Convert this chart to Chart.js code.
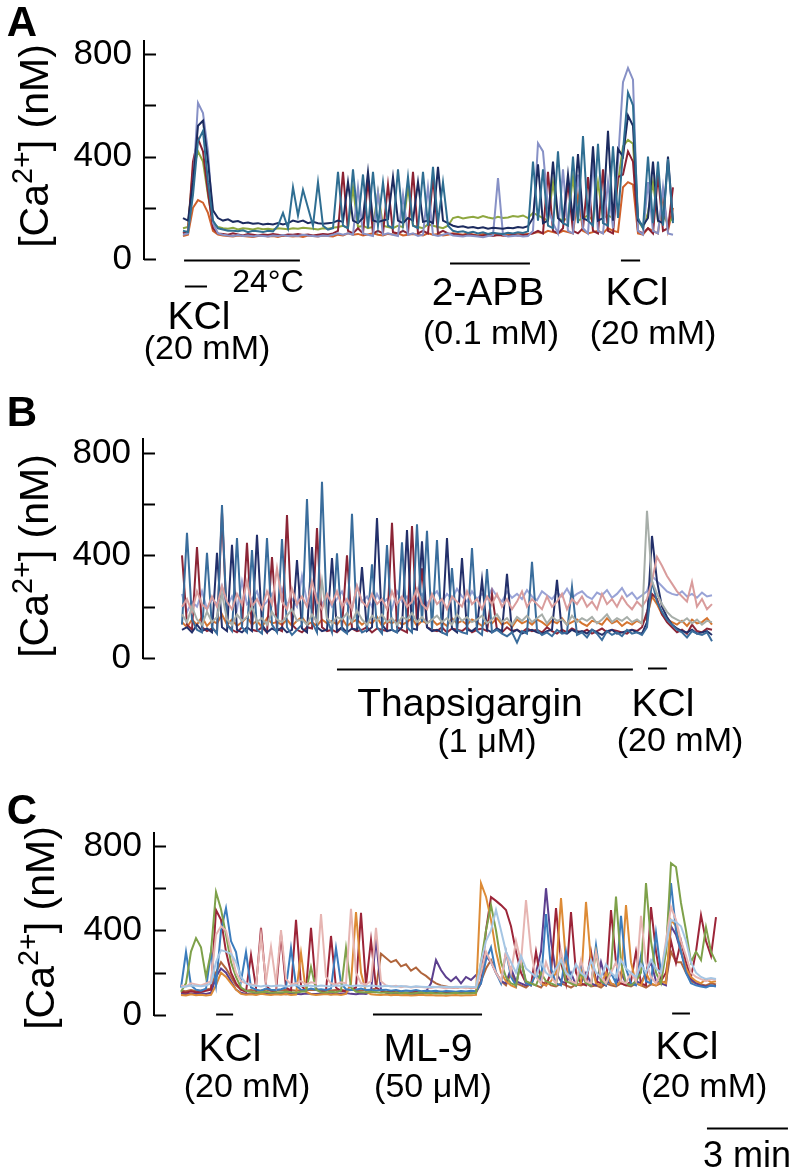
<!DOCTYPE html>
<html>
<head>
<meta charset="utf-8">
<script src="https://cdn.jsdelivr.net/npm/chart.js@4.4.1/dist/chart.umd.min.js"></script>
<style>
  html, body { margin: 0; padding: 0; background: #fff; }
  body { width: 800px; height: 1173px; position: relative; overflow: hidden;
         font-family: "Liberation Sans", Arial, Helvetica, sans-serif; color: #000; }
  canvas { position: absolute; left: 0; }
  .lbl { position: absolute; transform: translate(-50%, -50%); line-height: 1; white-space: nowrap; }
  .big { font-size: 39px; }
  .sub { font-size: 34px; }
  .deg { font-size: 32px; }
  .panel { font-size: 42px; font-weight: bold; }
  .ytitle { position: absolute; font-size: 41px; line-height: 1; white-space: nowrap;
            transform: translate(-50%, -50%) rotate(-90deg); }
  .ytitle sup { font-size: 0.7em; vertical-align: 0.55em; line-height: 0; }
</style>
</head>
<body>
<canvas id="chartA" width="800" height="390" style="top:0"></canvas>
<canvas id="chartB" width="800" height="390" style="top:390px"></canvas>
<canvas id="chartC" width="800" height="393" style="top:780px"></canvas>

<div class="lbl panel" style="left:22px;top:22px">A</div>
<div class="lbl panel" style="left:22px;top:412px">B</div>
<div class="lbl panel" style="left:22px;top:810px">C</div>

<div class="ytitle" style="left:34px;top:146px">[Ca<sup>2+</sup>] (nM)</div>
<div class="ytitle" style="left:34px;top:556px">[Ca<sup>2+</sup>] (nM)</div>
<div class="ytitle" style="left:40px;top:928px">[Ca<sup>2+</sup>] (nM)</div>

<!-- panel A labels -->
<div class="lbl big" style="left:199px;top:315px">KCl</div>
<div class="lbl sub" style="left:207px;top:347px">(20 mM)</div>
<div class="lbl deg" style="left:268px;top:281px">24°C</div>
<div class="lbl big" style="left:488px;top:291px">2-APB</div>
<div class="lbl sub" style="left:491px;top:332px">(0.1 mM)</div>
<div class="lbl big" style="left:637px;top:291px">KCl</div>
<div class="lbl sub" style="left:653px;top:332px">(20 mM)</div>

<!-- panel B labels -->
<div class="lbl big" style="left:470px;top:702px">Thapsigargin</div>
<div class="lbl sub" style="left:487px;top:740px">(1 μM)</div>
<div class="lbl big" style="left:663px;top:702px">KCl</div>
<div class="lbl sub" style="left:680px;top:739px">(20 mM)</div>

<!-- panel C labels -->
<div class="lbl big" style="left:230px;top:1047px">KCl</div>
<div class="lbl sub" style="left:247px;top:1085px">(20 mM)</div>
<div class="lbl big" style="left:428px;top:1047px">ML-9</div>
<div class="lbl sub" style="left:433px;top:1085px">(50 μM)</div>
<div class="lbl big" style="left:687px;top:1045px">KCl</div>
<div class="lbl sub" style="left:704px;top:1085px">(20 mM)</div>
<div class="lbl big" style="left:747px;top:1155px;font-size:36px">3 min</div>

<script>
// sampling interval of the traces, in minutes
const SAMPLE_MIN = 5 / 27;
const yTicks = [0, 200, 400, 600, 800];

// Panel A: 24°C, KCl, 2-APB, KCl
const aNavy = [160,150,300,520,540,380,190,160,150,155, 145,148,140,142,138,140,135,138,135,140,
  135,140,150,145,150,140,145,140,138,140, 142,150,145,300,150,140,160,340,150,145,
  150,155,320,150,140,160,150,300,145,150, 140,360,150,140,130,125,128,122,125,120,
  124,118,122,120,118,122,120,125,122,128, 160,370,140,150,380,160,140,330,150,410,
  160,150,440,150,160,500,150,430,400,560, 520,150,130,160,380,150,140,400,150];
const aTeal = [110,105,250,460,500,300,150,120,115,110, 110,108,112,105,110,108,105,110,108,130,
  180,120,280,170,270,200,130,300,130,115, 120,340,130,120,350,140,330,120,340,130,
  300,130,120,350,140,320,130,120,340,130, 360,140,300,130,110,105,108,102,106,100,
  104,98,102,100,98,102,100,104,102,108, 380,150,350,130,120,420,140,130,400,140,
  480,150,130,450,140,130,440,160,420,650, 600,160,120,400,140,380,130,390,140];
const aLavender = [95,100,280,610,570,420,140,100,95,92, 90,94,90,92,88,92,90,88,92,90,
  94,90,92,90,95,92,90,88,92,90, 95,100,95,100,95,280,100,95,90,260,
  95,100,95,90,250,95,100,90,95,280, 95,90,95,100,92,90,88,92,90,88,
  85,90,92,316,95,88,90,92,88,90, 110,452,420,200,140,100,350,110,100,330,
  120,100,380,110,100,300,120,380,690,746, 700,110,95,300,110,100,280,100,95];
const aRed = [100,110,380,470,420,260,120,100,98,95, 100,96,92,98,95,92,96,94,98,95,
  92,96,95,98,94,96,92,95,98,96, 100,110,340,110,100,120,100,310,100,110,
  100,290,105,100,110,100,340,100,110,100, 320,100,110,100,98,95,92,96,94,90,
  92,95,90,94,92,90,95,92,94,96, 100,110,100,340,110,100,120,300,110,100,
  120,320,110,100,350,110,100,320,330,420, 380,110,100,120,100,330,110,120,280];
const aGreen = [120,125,350,420,380,250,140,125,120,118, 122,115,120,118,115,120,116,118,115,120,
  118,116,120,118,122,120,118,115,120,118, 122,125,130,120,280,125,130,120,125,260,
  130,125,120,130,125,280,130,125,120,135, 130,125,120,130,160,165,158,162,165,160,
  168,162,158,165,160,162,168,165,170,160, 180,170,160,150,300,160,150,160,320,150,
  160,170,150,300,160,170,160,300,440,465, 450,150,120,180,300,150,170,140,160];
const aOrange = [90,95,200,230,220,180,110,95,92,90, 88,92,90,88,86,90,92,88,90,86,
  92,90,88,90,86,92,90,88,92,90, 88,95,92,100,95,98,92,96,100,95,
  92,98,96,100,92,95,98,96,92,100, 95,98,92,95,100,98,95,100,96,92,
  98,95,100,96,92,98,95,100,96,98, 100,105,100,110,105,100,110,105,100,250,
  110,100,105,110,100,120,110,105,280,300, 290,100,95,120,110,100,250,110,200];
const aBars = [[0.04, 4.33], [0.07, 0.89], [9.89, 12.85], [16.22, 16.93]];

// Panel B: thapsigargin, KCl
const bBlue = [130,488,150,110,100,410,120,95,597,130, 105,468,120,100,421,110,95,468,130,100,
  464,120,90,110,130,620,140,100,687,150, 100,408,110,95,562,130,100,110,365,120,
  95,440,110,100,451,120,100,521,140,496, 110,460,100,90,351,110,100,95,429,105,
  90,347,100,110,95,85,100,60,105,95, 375,110,90,100,85,110,95,100,277,90,
  100,80,110,95,70,105,90,100,85,110, 95,100,90,120,300,220,180,150,130,110,
  100,80,105,95,90,100,65];
const bNavy = [110,120,100,130,105,115,100,410,120,105, 441,110,100,120,105,480,130,100,115,105,
  120,100,110,382,115,100,433,120,105,110, 390,105,120,100,115,110,355,105,120,546,
  130,105,110,100,120,499,115,110,455,120, 105,110,100,468,115,100,390,110,105,120,
  305,110,100,115,105,328,100,110,95,105, 110,100,95,105,110,305,100,95,110,100,
  105,95,110,100,90,105,110,95,100,105, 110,100,95,140,476,300,200,160,130,115,
  105,100,110,95,100,105,90];
const bRed = [400,130,110,433,120,105,115,100,570,130, 110,100,120,449,110,105,120,100,394,115,
  105,558,130,110,100,120,115,507,120,105, 110,100,120,400,115,105,110,120,100,115,
  110,105,527,120,110,100,515,130,350,120, 110,105,120,100,115,110,105,120,100,110,
  115,105,250,110,100,120,105,110,100,115, 105,110,100,120,105,95,110,100,115,105,
  100,110,95,105,115,100,110,105,100,95, 110,105,120,180,250,230,170,140,120,100,
  110,95,130,105,100,115,110];
const bPink = [200,230,180,260,210,190,240,200,280,220, 190,250,210,300,200,230,190,260,210,350,
  220,190,270,210,240,200,300,220,190,250, 210,260,200,230,190,280,220,200,250,210,
  230,190,260,210,240,200,220,270,210,190, 250,210,230,190,240,220,200,260,210,230,
  190,240,210,250,200,230,190,220,260,200, 230,210,190,240,200,220,250,190,230,210,
  240,200,220,190,250,210,230,200,240,210, 190,220,200,230,300,395,360,320,290,260,
  240,220,297,200,230,190,210];
const bLavender = [250,180,220,200,260,190,230,210,280,200, 240,190,300,210,230,260,200,220,250,190,
  270,210,230,200,320,220,190,250,210,240, 200,230,260,210,190,280,220,240,200,250,
  210,230,190,260,220,240,200,230,250,210, 240,260,220,250,230,270,240,220,260,230,
  250,230,270,240,220,260,235,250,230,265, 240,225,260,245,230,255,240,270,235,250,
  260,240,230,255,245,265,235,250,273,240, 255,230,245,260,320,300,280,260,250,245,
  260,240,250,235,255,240,245];
const bGrey = [170,140,200,150,130,180,140,160,250,150, 130,170,145,160,200,140,155,130,180,150,
  140,165,190,145,150,130,170,140,300,155, 135,160,150,175,140,185,150,130,165,145,
  170,140,155,130,160,150,175,140,160,135, 150,165,140,155,130,170,145,160,140,150,
  165,135,150,170,140,155,130,160,145,165, 140,155,170,135,160,145,150,130,165,140,
  155,145,160,135,150,170,140,155,145,160, 140,150,135,574,300,250,210,180,160,150,
  140,155,135,150,130,145,140];
const bOrange = [140,120,150,130,160,125,145,135,170,130, 150,125,140,160,130,145,120,155,135,140,
  130,150,125,145,160,130,140,125,150,135, 145,130,155,125,140,150,130,145,135,160,
  125,145,135,150,130,140,155,125,145,135, 150,130,140,125,155,135,145,130,150,140,
  125,145,135,155,130,140,120,150,135,145, 130,150,140,125,145,135,155,130,140,150,
  135,125,145,140,130,155,135,145,125,140, 130,145,135,160,240,210,170,150,140,130,
  145,125,150,135,140,155,130];
const bBars = [[5.74, 16.70], [17.26, 17.96]];

// Panel C: KCl, ML-9, KCl, scale bar
const cBlue = [130,298,140,120,115,125,298,140,400,506, 350,298,160,298,130,120,115,125,120,118,
  122,130,317,140,120,118,125,120,122,118, 125,317,150,122,118,120,125,118,120,115,
  118,120,115,118,112,116,114,118,112,115, 112,115,110,114,112,110,113,111,115,112,
  150,260,320,200,150,300,180,140,260,150, 140,200,150,478,220,150,140,300,160,140,
  250,150,140,330,160,140,200,150,469,220, 150,140,280,160,150,388,200,300,624,400,
  300,200,150,140,135,130,140,135];
const cRed = [110,105,112,108,110,115,120,497,450,300, 200,150,120,110,284,130,412,140,115,110,
  383,130,115,450,140,115,412,125,110,115, 374,130,112,115,120,130,483,140,355,130,
  115,110,112,108,110,105,108,110,106,108, 105,108,110,106,104,108,105,107,104,106,
  150,400,558,540,520,497,420,300,200,150, 140,300,160,140,200,506,250,150,487,200,
  150,140,300,160,150,140,497,250,150,140, 160,300,150,140,511,300,160,200,350,246,
  350,250,180,300,473,350,280,463];
const cGreen = [110,150,300,364,320,180,300,582,500,380, 250,180,130,115,110,105,108,110,105,108,
  106,110,108,105,110,112,227,120,108,106, 110,108,115,317,130,110,108,106,110,108,
  105,108,104,106,103,105,102,104,106,103, 105,102,104,101,103,105,102,104,103,105,
  250,400,520,400,250,180,150,140,260,160, 150,140,200,160,150,140,280,160,150,140,
  200,150,140,300,160,150,220,560,250,150, 140,160,200,624,350,200,150,300,718,700,
  530,400,250,300,260,416,300,250];
const cOrange = [95,92,98,94,96,92,95,140,200,180, 150,120,100,96,98,95,100,97,95,98,
  96,99,95,97,293,110,98,95,97,99, 96,98,95,100,150,487,200,110,98,96,
  95,97,94,96,93,95,92,94,96,93, 95,92,94,91,93,95,92,94,93,95,
  624,560,450,300,200,160,140,130,260,150, 140,200,150,140,160,200,553,250,150,140,
  150,535,250,150,140,200,150,140,160,520, 250,150,140,200,150,140,160,150,450,420,
  300,220,180,160,150,170,155,160];
const cPink = [140,135,150,145,140,150,160,380,420,400, 300,200,160,150,145,140,379,160,322,150,
  402,170,145,150,160,145,155,150,478,180, 150,145,155,150,502,200,150,145,160,412,
  160,140,135,138,132,136,130,134,132,130, 128,132,130,126,130,128,132,127,130,128,
  200,300,250,200,160,300,200,350,250,544, 300,180,150,250,180,150,300,200,160,150,
  260,160,150,300,180,150,200,250,160,150, 200,160,469,250,180,150,200,350,511,450,
  350,280,200,180,170,160,170,165];
const cLightBlue = [130,135,140,138,136,140,150,250,307,300, 290,250,180,150,140,138,135,140,136,138,
  140,135,138,142,136,140,138,135,140,137, 135,140,138,142,136,140,138,135,140,137,
  135,138,136,134,137,135,133,136,134,132, 134,132,135,133,131,134,132,135,133,134,
  250,350,400,497,400,300,250,200,280,220, 200,180,250,200,180,220,260,200,180,240,
  200,180,260,200,180,240,200,180,260,220, 200,180,240,200,260,220,200,330,450,440,
  420,350,250,200,180,170,175,170];
const cBrown = [115,112,118,114,116,120,125,200,250,220, 180,140,120,115,118,114,116,120,115,118,
  116,120,118,115,118,116,120,118,115,118, 116,118,120,115,118,120,116,118,120,125,
  290,270,250,260,230,240,210,225,200,185, 165,150,140,135,130,128,132,130,128,130,
  160,220,260,200,160,140,200,150,140,130, 150,140,130,160,140,135,150,140,130,145,
  140,150,135,140,130,150,140,135,150,140, 135,150,140,130,145,140,150,160,300,250,
  250,200,160,150,145,140,150,145];
const cPurple = [100,98,102,100,104,100,105,180,220,200, 160,120,105,100,102,98,100,103,100,102,
  100,98,102,100,98,102,100,99,102,100, 98,102,100,104,100,98,102,100,110,360,
  120,105,102,100,104,100,102,98,100,110, 150,260,213,180,160,180,150,180,166,189,
  200,280,250,200,160,150,220,160,150,140, 150,200,300,600,350,200,160,150,200,140,
  150,200,150,140,250,160,150,140,200,150, 140,160,150,200,250,160,150,140,420,380,
  300,220,170,150,140,135,140,138];
const cBars = [[1.30, 1.93], [7.11, 11.15], [18.19, 18.85], [19.48, 22.48]];

Chart.defaults.font.family = "'Liberation Sans', Arial, sans-serif";

function toPoints(values) {
  return values.map((v, i) => ({ x: i * SAMPLE_MIN, y: v }));
}

// axis line with inward ticks, plus the drug application bars under the traces
const panelDecor = {
  id: 'panelDecor',
  afterDraw(chart, args, opts) {
    const ctx = chart.ctx;
    const area = chart.chartArea;
    const xs = chart.scales.x;
    const ys = chart.scales.y;
    ctx.save();
    ctx.strokeStyle = '#000';
    ctx.lineWidth = 2;
    ctx.beginPath();
    ctx.moveTo(area.left, area.top);
    ctx.lineTo(area.left, area.bottom + 1);
    yTicks.forEach(v => {
      const y = Math.round(ys.getPixelForValue(v)) + 0.5;
      ctx.moveTo(area.left, y);
      ctx.lineTo(area.left + 12, y);
    });
    ctx.stroke();
    opts.bars.forEach((b, i) => {
      const y = Math.round(area.bottom + opts.offsets[i]) + 0.5;
      ctx.beginPath();
      ctx.moveTo(xs.getPixelForValue(b[0]), y);
      ctx.lineTo(xs.getPixelForValue(b[1]), y);
      ctx.stroke();
    });
    ctx.restore();
  }
};

function makePanel(id, traces, cfg) {
  return new Chart(document.getElementById(id), {
    type: 'line',
    data: {
      datasets: traces.map(t => ({
        data: toPoints(t[0]),
        borderColor: t[1],
        borderWidth: 2,
        pointRadius: 0,
        tension: 0,
        fill: false
      }))
    },
    options: {
      responsive: false,
      animation: false,
      layout: { padding: { top: cfg.top, bottom: cfg.bottom, left: 0, right: 5 } },
      plugins: {
        legend: { display: false },
        tooltip: { enabled: false },
        panelDecor: { bars: cfg.bars, offsets: cfg.offsets }
      },
      scales: {
        x: { type: 'linear', display: false, min: cfg.xMin, max: cfg.xMax },
        y: {
          min: 0,
          max: cfg.yMax,
          afterFit: s => { s.width = cfg.axisX; },
          grid: { display: false, drawTicks: false },
          border: { display: false },
          ticks: {
            stepSize: 200,
            includeBounds: false,
            autoSkip: false,
            padding: 12,
            color: '#000',
            font: { size: 35 },
            callback: v => (v % 400 === 0 ? String(v) : '')
          }
        }
      }
    },
    plugins: [panelDecor]
  });
}

makePanel('chartA',
  [[aTeal, '#2f6e92'], [aNavy, '#1c2b5f'], [aLavender, '#8791c6'],
   [aRed, '#8c2232'], [aGreen, '#8ea73f'], [aOrange, '#d0612b']],
  { top: 40, bottom: 131, axisX: 144, xMin: -1.444, xMax: 22.667, yMax: 855,
    bars: aBars, offsets: [1, 27, 4, 1] });

makePanel('chartB',
  [[bGrey, '#a7aea9'], [bPink, '#d99c9c'], [bBlue, '#3a6d9c'], [bNavy, '#23306a'],
   [bRed, '#8b2536'], [bLavender, '#99a3d6'], [bOrange, '#d5742f']],
  { top: 48, bottom: 122, axisX: 143, xMin: -1.444, xMax: 22.704, yMax: 858,
    bars: bBars, offsets: [11, 10] });

makePanel('chartC',
  [[cLightBlue, '#a6c6e4'], [cPink, '#e6b5b2'], [cGreen, '#7ea14a'], [cBlue, '#3b7cbd'],
   [cOrange, '#dd8b36'], [cRed, '#9c2538'], [cPurple, '#5c3f8e'], [cBrown, '#b0653c']],
  { top: 52, bottom: 158, axisX: 154, xMin: -1.0, xMax: 22.741, yMax: 866,
    bars: cBars, offsets: [-1, -1, -2, 113] });
</script>
</body>
</html>
